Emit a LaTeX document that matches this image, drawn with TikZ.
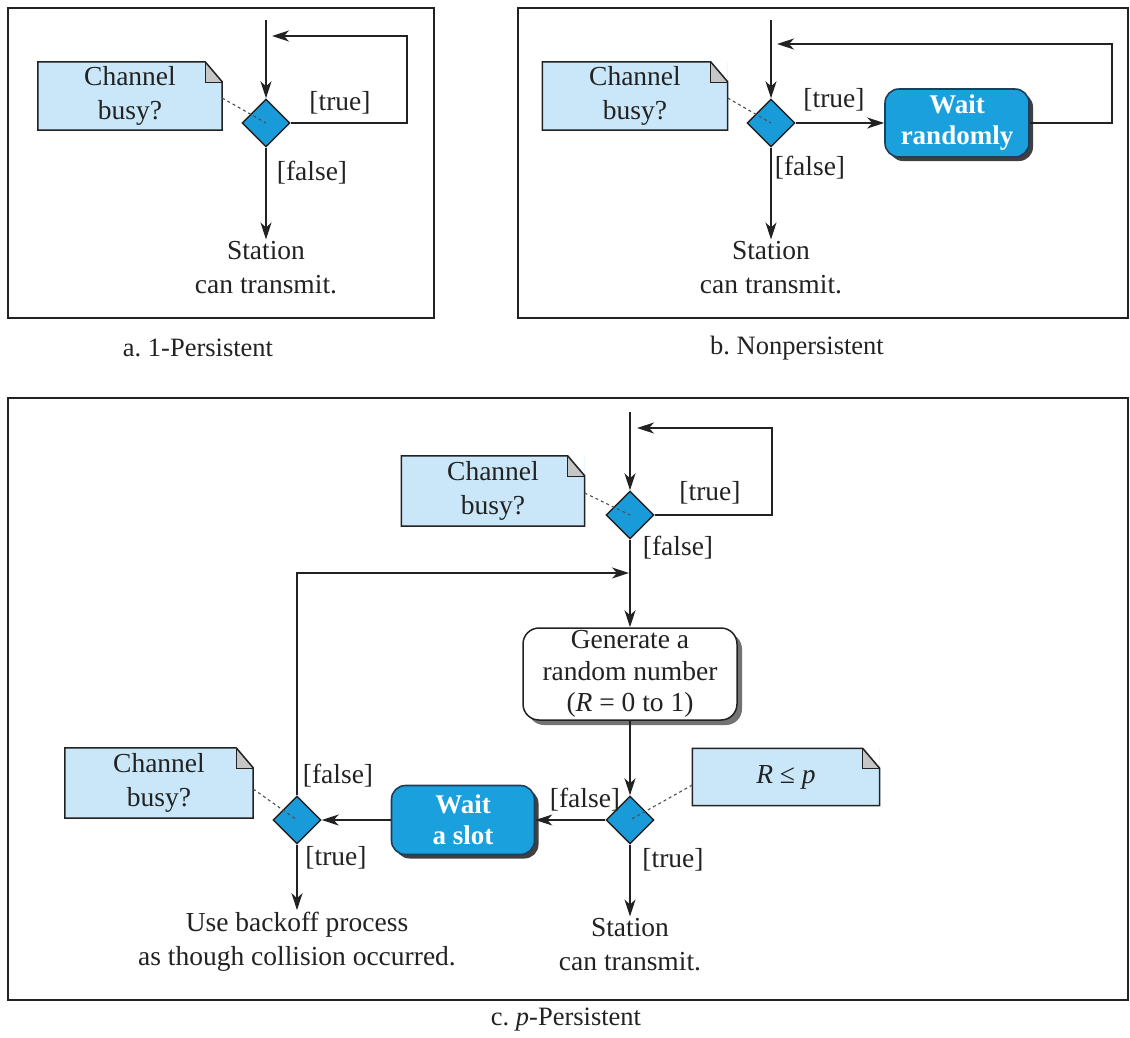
\documentclass[tikz,border=0pt]{standalone}
\usepackage{fontspec}
\setmainfont{Liberation Serif}
\usetikzlibrary{shapes.geometric,arrows.meta,shadows,calc}
\frenchspacing

\definecolor{notefill}{HTML}{C9E7F8}
\definecolor{diafill}{HTML}{1A9BD9}
\definecolor{waitfill}{HTML}{19A0DD}
\definecolor{ink}{HTML}{222222}
\definecolor{waitline}{HTML}{1E3E5A}

\newcommand\foldnote[1]{%
  \fill[white] ([xshift=-17pt]#1.north east) -- (#1.north east) -- ([yshift=-20pt]#1.north east) -- cycle;
  \fill[gray!45] ([xshift=-17pt]#1.north east) -- ([xshift=-17pt,yshift=-20pt]#1.north east) -- ([yshift=-20pt]#1.north east) -- cycle;
  \draw[ink, line width=0.6pt] ([xshift=-17pt]#1.north east) -- ([xshift=-17pt,yshift=-20pt]#1.north east) -- ([yshift=-20pt]#1.north east);
  \draw[ink, line width=1.5pt, line join=miter] (#1.south west) -- (#1.north west) -- ([xshift=-17pt]#1.north east) -- ([yshift=-20pt]#1.north east) -- (#1.south east) -- cycle;
}

\begin{document}
\begin{tikzpicture}[x=1pt, y=-1pt,
  font=\fontsize{27.5}{34}\selectfont, text=ink,
  panel/.style={draw=ink, line width=1.6pt},
  note/.style={fill=notefill, align=center, inner sep=0pt},
  dia/.style={diamond, aspect=1, minimum width=48pt, minimum height=48pt, inner sep=0pt, fill=diafill, draw=ink, line width=1.4pt},
  waitbox/.style={rounded corners=14pt, fill=waitfill, draw=waitline, line width=1.6pt, text=white,
    font=\fontsize{27}{31}\selectfont\bfseries, align=center, minimum width=144pt, minimum height=68pt, inner sep=0pt,
    drop shadow={shadow xshift=4pt, shadow yshift=-4pt, fill=black!75, opacity=1}},
  genbox/.style={rounded corners=16pt, fill=white, draw=ink, line width=1.5pt, align=center,
    minimum width=214pt, minimum height=92pt, inner sep=0pt, font=\fontsize{27.5}{31.5}\selectfont,
    drop shadow={shadow xshift=5pt, shadow yshift=-5pt, fill=black!55, opacity=1}},
  txt/.style={align=center, inner sep=2pt},
  lbl/.style={inner sep=0pt},
  arr/.style={-{Stealth[length=17pt,width=11pt,inset=5pt]}, line width=1.6pt, draw=ink},
  dotl/.style={draw=ink!80, line width=1.1pt, dash pattern=on 3pt off 3pt},
  captext/.style={inner sep=0pt, font=\fontsize{26.5}{30}\selectfont}
]
\useasboundingbox (0,0) rectangle (1130,1037);

% ---------------- panel a ----------------
\draw[panel] (8,8) rectangle (434,318);
\coordinate (a0) at (266,20);
\node[dia] (da) at (266,123) {};
\coordinate (aR) at (407,36);
\coordinate (aE) at (272,36);
\node[note, minimum width=184pt, minimum height=68pt] (na) at (130,96) {Channel\\busy?};
\foldnote{na}
\node[txt] (sa) at (266,268) {Station\\can transmit.};
\draw[arr] (a0) -- (da.north);
\draw[arr] (da.east) -| (aR) -- (aE);
\draw[arr] (da.south) -- (sa.north);
\draw[dotl] ([yshift=-2pt]na.east) -- (da.center);
\node[lbl] (ta) at (340,103) {[true]};
\node[lbl] (fa) at (312,173) {[false]};
\node[captext] (capa) at (198,348) {a. 1-Persistent};

% ---------------- panel b ----------------
\draw[panel] (518,8) rectangle (1128,318);
\coordinate (b0) at (771,20);
\node[dia] (db) at (771,123) {};
\node[waitbox] (wr) at (957,123) {Wait\\randomly};
\coordinate (bR) at (1112,44);
\coordinate (bE) at (777,44);
\node[note, minimum width=185pt, minimum height=68pt] (nb) at (635,96) {Channel\\busy?};
\foldnote{nb}
\node[txt] (sb) at (771,268) {Station\\can transmit.};
\draw[arr] (b0) -- (db.north);
\draw[arr] (db.east) -- (wr.west);
\draw[arr] (wr.east) -| (bR) -- (bE);
\draw[arr] (db.south) -- (sb.north);
\draw[dotl] ([yshift=-2pt]nb.east) -- (db.center);
\node[lbl] (tb) at (834,100) {[true]};
\node[lbl] (fb) at (810,168) {[false]};
\node[captext] (capb) at (797,348) {b. Nonpersistent};

% ---------------- panel c ----------------
\draw[panel] (8,398) rectangle (1128,1000);
\coordinate (c0) at (630,412);
\node[dia] (dc1) at (630,515) {};
\coordinate (cR) at (772,428);
\coordinate (cE) at (637,428);
\node[note, minimum width=183pt, minimum height=70pt] (nc1) at (493,491) {Channel\\busy?};
\foldnote{nc1}
\coordinate (m) at (629,573);
\node[genbox] (gen) at (630,674) {Generate a\\random number\\(\textit{R} = 0 to 1)};
\node[dia] (dc2) at (630,820) {};
\node[note, minimum width=187pt, minimum height=57pt] (nr) at (786,777) {\textit{R} ≤ \textit{p}};
\foldnote{nr}
\node[waitbox, minimum width=143pt, minimum height=69pt] (ws) at (463,820) {Wait\\a slot};
\node[dia] (dc3) at (297,820) {};
\node[note, minimum width=188pt, minimum height=70pt] (nc3) at (159,783) {Channel\\busy?};
\foldnote{nc3}
\node[txt] (sc) at (630,945) {Station\\can transmit.};
\node[txt] (bk) at (297,942) {Use backoff process\\as though collision occurred.};

\draw[arr] (c0) -- (dc1.north);
\draw[arr] (dc1.east) -| (cR) -- (cE);
\draw[dotl] ([yshift=-2pt]nc1.east) -- (dc1.center);
\draw[arr] (dc1.south) -- (gen.north);
\draw[arr] (dc3.north) |- (m);
\draw[arr] (gen.south) -- (dc2.north);
\draw[dotl] ([yshift=-8pt]nr.west) -- (dc2.center);
\draw[arr] (dc2.west) -- (ws.east);
\draw[arr] (ws.west) -- (dc3.east);
\draw[dotl] ([yshift=-6pt]nc3.east) -- (dc3.center);
\draw[arr] (dc2.south) -- (sc.north);
\draw[arr] (dc3.south) -- (bk.north);

\node[lbl] (tc1) at (710,493) {[true]};
\node[lbl] (fc1) at (678,548) {[false]};
\node[lbl] (fc2) at (585,800) {[false]};
\node[lbl] (tc2) at (673,860) {[true]};
\node[lbl] (fc3) at (338,776) {[false]};
\node[lbl] (tc3) at (336,858) {[true]};
\node[captext] (capc) at (566,1020) {c. \textit{p}-Persistent};
\end{tikzpicture}
\end{document}
